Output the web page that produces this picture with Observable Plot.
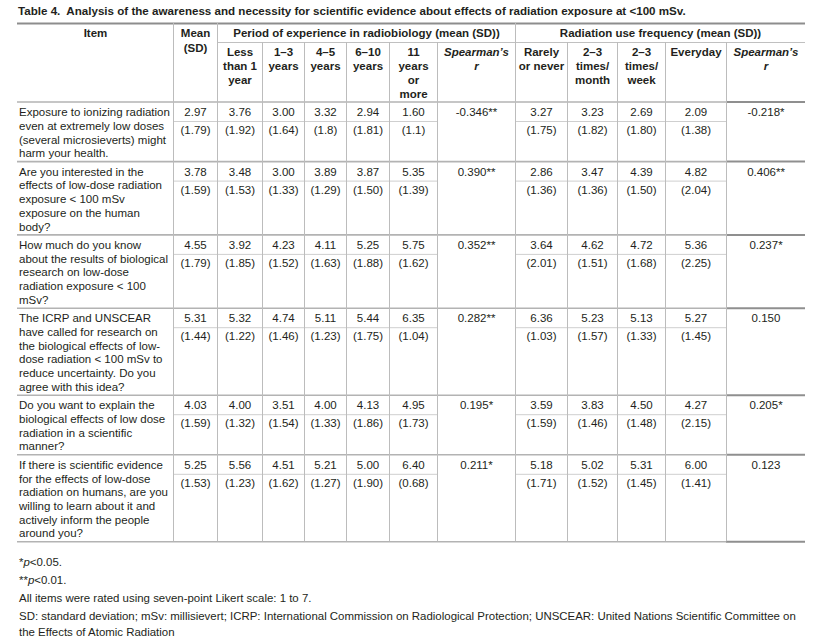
<!DOCTYPE html>
<html><head><meta charset="utf-8">
<script src="https://cdn.jsdelivr.net/npm/d3@7"></script>
<script src="https://cdn.jsdelivr.net/npm/@observablehq/plot@0.6"></script>
<style>body{margin:0;background:#fff} svg{display:block}</style>
</head><body><div id="chart"></div>
<script>
// ---------- data ----------
const title = "Table 4.  Analysis of the awareness and necessity for scientific evidence about effects of radiation exposure at <100 mSv.";
const items = [
  "Exposure to ionizing radiation\neven at extremely low doses\n(several microsieverts) might\nharm your health.",
  "Are you interested in the\neffects of low-dose radiation\nexposure < 100 mSv\nexposure on the human\nbody?",
  "How much do you know\nabout the results of biological\nresearch on low-dose\nradiation exposure < 100\nmSv?",
  "The ICRP and UNSCEAR\nhave called for research on\nthe biological effects of low-\ndose radiation < 100 mSv to\nreduce uncertainty. Do you\nagree with this idea?",
  "Do you want to explain the\nbiological effects of low dose\nradiation in a scientific\nmanner?",
  "If there is scientific evidence\nfor the effects of low-dose\nradiation on humans, are you\nwilling to learn about it and\nactively inform the people\naround you?"
];
const overallMean = ["2.97", "3.78", "4.55", "5.31", "4.03", "5.25"];
const overallSD   = ["1.79", "1.59", "1.79", "1.44", "1.59", "1.53"];

const expGroups = ["Less\nthan 1\nyear", "1–3\nyears", "4–5\nyears", "6–10\nyears", "11\nyears\nor\nmore"];
const expMeans = [
  ["3.76", "3.00", "3.32", "2.94", "1.60"],
  ["3.48", "3.00", "3.89", "3.87", "5.35"],
  ["3.92", "4.23", "4.11", "5.25", "5.75"],
  ["5.32", "4.74", "5.11", "5.44", "6.35"],
  ["4.00", "3.51", "4.00", "4.13", "4.95"],
  ["5.56", "4.51", "5.21", "5.00", "6.40"]
];
const expSD = [
  ["1.92", "1.64", "1.8", "1.81", "1.1"],
  ["1.53", "1.33", "1.29", "1.50", "1.39"],
  ["1.85", "1.52", "1.63", "1.88", "1.62"],
  ["1.22", "1.46", "1.23", "1.75", "1.04"],
  ["1.32", "1.54", "1.33", "1.86", "1.73"],
  ["1.23", "1.62", "1.27", "1.90", "0.68"]
];
const expRho = ["-0.346**", "0.390**", "0.352**", "0.282**", "0.195*", "0.211*"];

const freqGroups = ["Rarely\nor never", "2–3\ntimes/\nmonth", "2–3\ntimes/\nweek", "Everyday"];
const freqMeans = [
  ["3.27", "3.23", "2.69", "2.09"],
  ["2.86", "3.47", "4.39", "4.82"],
  ["3.64", "4.62", "4.72", "5.36"],
  ["6.36", "5.23", "5.13", "5.27"],
  ["3.59", "3.83", "4.50", "4.27"],
  ["5.18", "5.02", "5.31", "6.00"]
];
const freqSD = [
  ["1.75", "1.82", "1.80", "1.38"],
  ["1.36", "1.36", "1.50", "2.04"],
  ["2.01", "1.51", "1.68", "2.25"],
  ["1.03", "1.57", "1.33", "1.45"],
  ["1.59", "1.46", "1.48", "2.15"],
  ["1.71", "1.52", "1.45", "1.41"]
];
const freqRho = ["-0.218*", "0.406**", "0.237*", "0.150", "0.205*", "0.123"];

const headItem = "Item";
const headMean = "Mean\n(SD)";
const headExp = "Period of experience in radiobiology (mean (SD))";
const headFreq = "Radiation use frequency (mean (SD))";
const headRho = "Spearman’s\nr";
const footnotes = [
  "*p<0.05.",
  "**p<0.01.",
  "All items were rated using seven-point Likert scale: 1 to 7.",
  "SD: standard deviation; mSv: millisievert; ICRP: International Commission on Radiological Protection; UNSCEAR: United Nations Scientific Committee on",
  "the Effects of Atomic Radiation"
];

// ---------- layout ----------
const W = 820, H = 641;
const edges = [17, 173, 217, 262, 304, 346, 389, 437, 515, 567, 617, 665, 726, 805];
const mid = i => (edges[i] + edges[i + 1]) / 2;
const LH = 13.7, PAD = 4.8, FIRST = 10.5, SDOFF = 28.5, RULEOFF = 19.5;
const yTop = 23, yGroup = 42, yHeadBottom = 101.5;
const tops = [yHeadBottom];
items.forEach(s => tops.push(tops[tops.length - 1] + LH * s.split("\n").length + PAD));
const yBottom = tops[tops.length - 1];
const ink = "#231f20";
const FS = 11.5;

// ---------- build text data ----------
const itemText = []; // left-aligned
const body = [];     // centred
const head = [];     // bold header
const lines = (s) => s.split("\n");

items.forEach((s, r) => {
  lines(s).forEach((t, k) => itemText.push({x: edges[0] + 1.5, y: tops[r] + FIRST + k * LH, t}));
  body.push({x: mid(1), y: tops[r] + FIRST, t: overallMean[r]});
  body.push({x: mid(1), y: tops[r] + SDOFF, t: `(${overallSD[r]})`});
  expMeans[r].forEach((v, j) => {
    body.push({x: mid(2 + j), y: tops[r] + FIRST, t: v});
    body.push({x: mid(2 + j), y: tops[r] + SDOFF, t: `(${expSD[r][j]})`});
  });
  body.push({x: mid(7), y: tops[r] + FIRST, t: expRho[r]});
  freqMeans[r].forEach((v, j) => {
    body.push({x: mid(8 + j), y: tops[r] + FIRST, t: v});
    body.push({x: mid(8 + j), y: tops[r] + SDOFF, t: `(${freqSD[r][j]})`});
  });
  body.push({x: mid(12), y: tops[r] + FIRST, t: freqRho[r]});
});

const hy0 = 33.3, hy1 = 52.3, HLH = 13.7;
head.push({x: mid(0), y: hy0, t: headItem});
lines(headMean).forEach((t, k) => head.push({x: mid(1), y: hy0 + k * 14.3, t}));
head.push({x: (edges[2] + edges[8]) / 2, y: hy0, t: headExp});
head.push({x: (edges[8] + edges[13]) / 2, y: hy0, t: headFreq});
expGroups.forEach((g, j) => lines(g).forEach((t, k) => head.push({x: mid(2 + j), y: hy1 + k * HLH, t})));
freqGroups.forEach((g, j) => lines(g).forEach((t, k) => head.push({x: mid(8 + j), y: hy1 + k * HLH, t})));
const rhoHead = [];
[7, 12].forEach(c => lines(headRho).forEach((t, k) => rhoHead.push({x: mid(c), y: hy1 + k * HLH, t})));

const foot = footnotes.map((t, k) => ({x: 18.5, y: [562, 580, 597.5, 615.5, 632][k], t}));

// ---------- rules ----------
const hRules = [];
hRules.push({x1: edges[0], x2: edges[13], y: yTop, c: "#8d8d8d", w: 2});
hRules.push({x1: edges[2], x2: edges[13], y: yGroup, c: "#c0c0c0", w: 1});
tops.forEach((t, r) => {
  hRules.push({x1: edges[0], x2: edges[12], y: t, c: "#b3b3b3", w: 1.6});
  hRules.push({x1: edges[12], x2: edges[13], y: t, c: "#8f8f8f", w: 2});
  if (r < items.length) {
    hRules.push({x1: edges[1], x2: edges[7], y: t + RULEOFF, c: "#cfcfcf", w: 1});
    hRules.push({x1: edges[8], x2: edges[12], y: t + RULEOFF, c: "#cfcfcf", w: 1});
  }
});
const vRules = [];
[1, 2, 8].forEach(i => vRules.push({x: edges[i], y1: yTop, y2: yBottom}));
[3, 4, 5, 6, 7, 9, 10, 11, 12].forEach(i => vRules.push({x: edges[i], y1: yGroup, y2: yBottom}));

const font = "'Liberation Sans', Arial, Helvetica, sans-serif";

const chart = Plot.plot({
  width: W, height: H,
  margin: 0,
  x: {type: "identity"},
  y: {type: "identity"},
  style: {fontFamily: font, background: "#fff"},
  marks: [
    Plot.ruleY(hRules, {x1: "x1", x2: "x2", y: "y", stroke: d => d.c, strokeWidth: d => d.w}),
    Plot.ruleX(vRules, {x: "x", y1: "y1", y2: "y2", stroke: "#bcbcbc", strokeWidth: 1}),
    Plot.text([title], {x: () => 17.5, y: () => 11, text: d => d, textAnchor: "start", fontWeight: "bold", fontSize: 11.6, fill: ink}),
    Plot.text(head, {x: "x", y: "y", text: "t", textAnchor: "middle", fontWeight: "bold", fontSize: FS, fill: ink}),
    Plot.text(rhoHead, {x: "x", y: "y", text: "t", textAnchor: "middle", fontWeight: "bold", fontStyle: "italic", fontSize: FS, fill: ink}),
    Plot.text(itemText, {x: "x", y: "y", text: "t", textAnchor: "start", fontSize: FS, fill: ink}),
    Plot.text(body, {x: "x", y: "y", text: "t", textAnchor: "middle", fontSize: FS, fill: ink}),
    Plot.text(foot, {x: "x", y: "y", text: "t", textAnchor: "start", fontSize: 11.45, fill: ink})
  ]
});

// italic "p" in the significance footnotes
d3.select(chart).selectAll("text").filter(function () { return /^\*+p</.test(this.textContent); })
  .each(function () {
    const s = this.textContent; const i = s.indexOf("p");
    const el = d3.select(this); el.text(null);
    el.append("tspan").text(s.slice(0, i));
    el.append("tspan").attr("font-style", "italic").text("p");
    el.append("tspan").text(s.slice(i + 1));
  });

document.getElementById("chart").appendChild(chart);
</script>
</body></html>
